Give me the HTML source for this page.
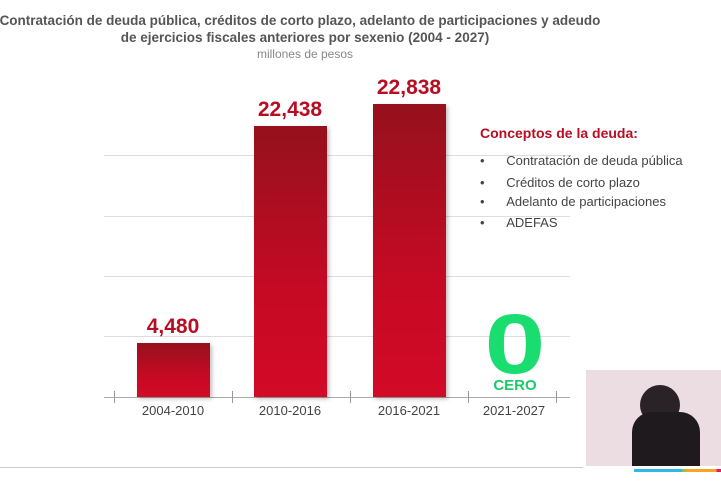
<!DOCTYPE html>
<html><head><meta charset="utf-8"><style>
*{margin:0;padding:0;box-sizing:border-box}
body{width:721px;height:485px;background:#fff;position:relative;overflow:hidden;font-family:"Liberation Sans",sans-serif}
.a{position:absolute}
.t{left:0;width:640px;text-align:center;color:#555;font-size:13.5px;font-weight:bold;line-height:17px;white-space:nowrap}
.g{height:1px;background:#ddd;left:104px;width:466px}
.bar{background:linear-gradient(#95111c,#c50a24 60%,#d20a26);box-shadow:2px 2px 4px rgba(0,0,0,.25)}
.v{color:#b80d22;font-weight:bold;font-size:21px;text-align:center;width:100px}
.l{color:#444;font-size:13px;text-align:center;width:110px;top:403px}
.tk{width:1px;height:12px;background:#999;top:391px}
.li{color:#444;font-size:13px;left:480px}
</style></head><body>
<div class="a t" style="top:12px;left:-50px;width:700px">Contratación de deuda pública, créditos de corto plazo, adelanto de participaciones y adeudo</div>
<div class="a t" style="top:29px;left:-5px;width:620px">de ejercicios fiscales anteriores por sexenio (2004 - 2027)</div>
<div class="a t" style="top:46px;left:-5px;width:620px;font-weight:normal;color:#888;font-size:12px">millones de pesos</div>
<div class="a g" style="top:155px"></div>
<div class="a g" style="top:216px"></div>
<div class="a g" style="top:276px"></div>
<div class="a g" style="top:336px"></div>
<div class="a" style="left:104px;width:466px;top:397px;height:1px;background:#aaa"></div>
<div class="a tk" style="left:114px"></div><div class="a tk" style="left:232px"></div><div class="a tk" style="left:350px"></div><div class="a tk" style="left:468px"></div><div class="a tk" style="left:556px"></div>
<div class="a bar" style="left:137px;top:343px;width:73px;height:54px"></div>
<div class="a bar" style="left:254px;top:126px;width:73px;height:271px"></div>
<div class="a bar" style="left:373px;top:104px;width:73px;height:293px"></div>
<div class="a v" style="left:123px;top:315px">4,480</div>
<div class="a v" style="left:240px;top:98px">22,438</div>
<div class="a v" style="left:359px;top:76px">22,838</div>
<div class="a l" style="left:118px">2004-2010</div>
<div class="a l" style="left:235px">2010-2016</div>
<div class="a l" style="left:354px">2016-2021</div>
<div class="a l" style="left:459px">2021-2027</div>
<div class="a" style="left:480px;top:302px;width:70px;text-align:center;color:#19dd6e;font-weight:bold;font-size:84px;line-height:84px;transform:scaleX(1.3)">0</div>
<div class="a" style="left:480px;top:377px;width:70px;text-align:center;color:#19cc66;font-weight:bold;font-size:15px">CERO</div>
<div class="a" style="left:480px;top:125px;color:#b80d22;font-weight:bold;font-size:14px">Conceptos de la deuda:</div>
<div class="a li" style="top:153px">•&nbsp;&nbsp;&nbsp;&nbsp;&nbsp;&nbsp;Contratación de deuda pública</div>
<div class="a li" style="top:175px">•&nbsp;&nbsp;&nbsp;&nbsp;&nbsp;&nbsp;Créditos de corto plazo</div>
<div class="a li" style="top:194px">•&nbsp;&nbsp;&nbsp;&nbsp;&nbsp;&nbsp;Adelanto de participaciones</div>
<div class="a li" style="top:215px">•&nbsp;&nbsp;&nbsp;&nbsp;&nbsp;&nbsp;ADEFAS</div>
<div class="a" style="left:0;top:467px;width:583px;height:1px;background:#ccc"></div>
<div class="a" style="left:586px;top:370px;width:135px;height:96px;background:#ecdde3"></div>
<div class="a" style="left:640px;top:385px;width:40px;height:40px;border-radius:50%;background:#2a2226"></div>
<div class="a" style="left:632px;top:412px;width:68px;height:54px;border-radius:20px 20px 0 0;background:#1e1a1d"></div>
<div class="a" style="left:634px;top:469px;width:87px;height:3px;background:linear-gradient(90deg,#2fb6f0 0 55%,#7ad04a 55% 60%,#f6a623 60% 95%,#e9156e 95%)"></div>
</body></html>
